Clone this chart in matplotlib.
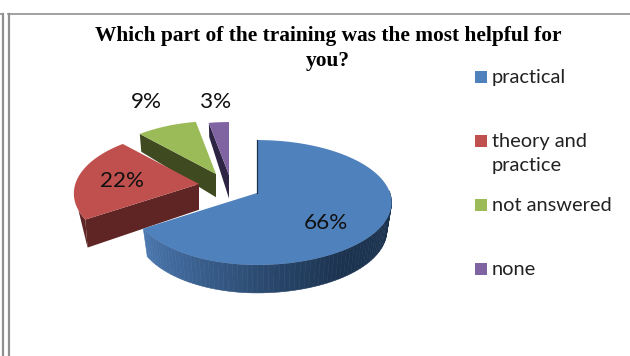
import numpy as np
import matplotlib
matplotlib.use('Agg')
import matplotlib.pyplot as plt
from matplotlib.patches import Polygon, Rectangle

categories = ['practical', 'theory and\npractice', 'not answered', 'none']
values = [66, 22, 9, 3]
labels = ['66%', '22%', '9%', '3%']
colors = ['#4F81BD', '#C0504D', '#9BBB59', '#8064A2']
side_colors = ['#1C3350', '#5E2524', '#3F4A20', '#2E2443']

# layout in pixels
apex_x, apex_y = 257, 193
rx, ry, persp = 133, 61, 0.152
left_squeeze = 0.93
depth = 28
offsets = [(0, 0), (-58, -9), (-41, -19), (-28, -18)]
label_pos = [(326, 223), (122, 181), (146, 102), (216, 102)]


def project(theta):
    # perspective ellipse, theta clockwise from 12 o'clock
    s, c = np.sin(theta), np.cos(theta)
    x = rx * s / (1 + persp * c)
    x = np.where(s < 0, x * left_squeeze, x)
    return x, -ry * c / (1 + persp * c)


def drop(theta):
    # back of the pie looks thinner than the front
    return depth * (1 - 0.5 * np.clip(np.cos(theta), 0, 1))


fig = plt.figure(figsize=(6.3, 3.56), dpi=100)
ax = fig.add_axes([0, 0, 1, 1])
ax.set_xlim(0, 630)
ax.set_ylim(356, 0)
ax.axis('off')

# page frame
ax.plot([2.5, 2.5], [14, 356], color='#909090', lw=1.6)
ax.plot([8.5, 8.5], [14, 356], color='#909090', lw=1.6)
ax.plot([8, 630], [14, 14], color='#909090', lw=1.2)
ax.plot([0, 3], [14, 14], color='#909090', lw=1.2)

edges = np.cumsum([0] + values) / sum(values) * 2 * np.pi
# back slices first, the big one goes on top
for i in [3, 2, 1, 0]:
    t0, t1 = edges[i], edges[i + 1]
    ox, oy = offsets[i]
    cx, cy = apex_x + ox, apex_y + oy
    ts = np.linspace(t0, t1, 120)
    px, py = project(ts)
    px, py = cx + px, cy + py

    # radial wall on the leading edge, hidden for the big slice
    if i > 0:
        inner = depth + oy * 0.25
        ex, ey = project(t0)
        wall = [(cx, cy), (cx + ex, cy + ey),
                (cx + ex * 0.98, cy + ey + drop(t0)), (cx, cy + inner)]
        ax.add_patch(Polygon(wall, closed=True, fc=side_colors[i], ec='none'))

    if i == 0:
        # rim with shading left to right, bottom edge a bit narrower
        dark = np.array(matplotlib.colors.to_rgb(side_colors[0]))
        light = np.array(matplotlib.colors.to_rgb('#4A78B0'))
        for j in range(len(ts) - 1):
            if np.cos(ts[j]) > 0.05:
                continue
            f = np.clip((px[j] - 145) / 200, 0, 1) ** 0.8
            col = light + (dark - light) * f
            quad = [(px[j], py[j]), (px[j + 1], py[j + 1]),
                    (cx + (px[j + 1] - cx) * 0.965, py[j + 1] + drop(ts[j + 1])),
                    (cx + (px[j] - cx) * 0.965, py[j] + drop(ts[j]))]
            ax.add_patch(Polygon(quad, closed=True, fc=col, ec=col, lw=0.4))
    elif i == 1:
        # small sliver of rim under the left corner
        ex, ey = project(t0)
        short = ts[ts < t0 + np.radians(9)]
        sx, sy = project(short)
        sliver = list(zip(cx + sx, cy + sy)) + [(cx + ex * 0.98, cy + ey + drop(t0))]
        ax.add_patch(Polygon(sliver, closed=True, fc=side_colors[i], ec='none'))

    top = [(cx, cy)] + list(zip(px, py))
    ax.add_patch(Polygon(top, closed=True, fc=colors[i], ec='none'))
    if i == 0:
        ax.plot([cx, cx], [cy, py[0]], color=side_colors[0], lw=0.9)

for lab, (lx, ly) in zip(labels, label_pos):
    ax.text(lx, ly, lab, fontsize=16.2, family='Lato', color='#111111',
            ha='center', va='center')

ax.text(328, 36, 'Which part of the training was the most helpful for', fontsize=15.4,
        family='Liberation Serif', fontweight='bold', ha='center', va='center')
ax.text(328, 61, 'you?', fontsize=15.4, family='Liberation Serif', fontweight='bold',
        ha='center', va='center')

# legend
legend_y = [77, 141, 205, 269]
for cat, col, ly in zip(categories, colors, legend_y):
    ax.add_patch(Rectangle((475, ly - 6), 12, 12, fc=col, ec='none'))
    ax.text(492, ly + 0.5 if '\n' not in cat else ly + 13, cat, fontsize=14.4,
            family='Lato', color='#222222', ha='left', va='center', linespacing=1.5)

fig.savefig('out.png', dpi=100)
